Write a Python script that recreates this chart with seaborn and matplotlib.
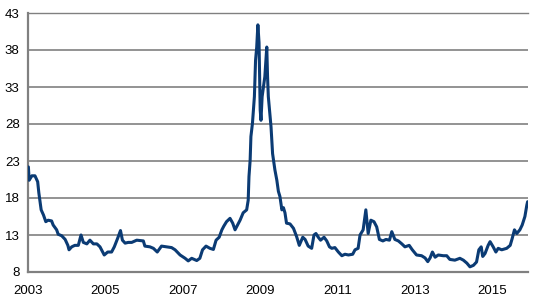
import matplotlib
matplotlib.use("Agg")
import matplotlib.pyplot as plt
import seaborn as sns
import pandas as pd

# Decimal years and index values
years = [
    2003.01, 2003.03, 2003.10, 2003.18, 2003.25, 2003.28, 2003.34, 2003.40, 2003.46, 2003.52,
    2003.61, 2003.65, 2003.74, 2003.78, 2003.87, 2003.96, 2004.03, 2004.06, 2004.13, 2004.21,
    2004.30, 2004.37, 2004.43, 2004.52, 2004.60, 2004.69, 2004.78, 2004.86, 2004.90, 2004.97,
    2005.06, 2005.16, 2005.23, 2005.32, 2005.39, 2005.44, 2005.51, 2005.59, 2005.68, 2005.81,
    2005.98, 2006.02, 2006.15, 2006.24, 2006.34, 2006.45, 2006.58, 2006.71, 2006.80, 2006.93,
    2007.06, 2007.14, 2007.23, 2007.36, 2007.44, 2007.51, 2007.60, 2007.70, 2007.79, 2007.86,
    2007.94, 2008.01, 2008.06, 2008.13, 2008.22, 2008.29, 2008.35, 2008.48, 2008.56, 2008.65,
    2008.69, 2008.71, 2008.74, 2008.76, 2008.80, 2008.85, 2008.88, 2008.91, 2008.94, 2008.97,
    2009.00, 2009.02, 2009.05, 2009.08, 2009.12, 2009.17, 2009.19, 2009.21, 2009.28, 2009.32,
    2009.38, 2009.43, 2009.47, 2009.51, 2009.56, 2009.60, 2009.64, 2009.68, 2009.77, 2009.86,
    2009.94, 2010.01, 2010.10, 2010.16, 2010.24, 2010.33, 2010.39, 2010.44, 2010.50, 2010.56,
    2010.65, 2010.72, 2010.79, 2010.85, 2010.93, 2011.02, 2011.11, 2011.19, 2011.28, 2011.39,
    2011.45, 2011.53, 2011.58, 2011.66, 2011.73, 2011.79, 2011.86, 2011.94, 2012.01, 2012.08,
    2012.17, 2012.25, 2012.34, 2012.40, 2012.48, 2012.57, 2012.66, 2012.74, 2012.85, 2012.93,
    2013.04, 2013.17, 2013.26, 2013.33, 2013.39, 2013.45, 2013.52, 2013.60, 2013.73, 2013.82,
    2013.90, 2014.03, 2014.16, 2014.25, 2014.34, 2014.42, 2014.51, 2014.59, 2014.65, 2014.71,
    2014.75, 2014.81, 2014.89, 2014.94, 2015.02, 2015.09, 2015.15, 2015.24, 2015.37, 2015.46,
    2015.51, 2015.57, 2015.63, 2015.71, 2015.77, 2015.84, 2015.89, 2015.91,
]
values = [
    22.2, 20.4, 21.0, 21.0, 20.2, 18.7, 16.4, 15.7, 14.8, 15.0,
    14.9, 14.35, 13.7, 13.1, 12.9, 12.4, 11.6, 11.0, 11.4, 11.6,
    11.6, 13.0, 12.0, 11.8, 12.3, 11.8, 11.8, 11.4, 11.0, 10.3,
    10.7, 10.7, 11.4, 12.6, 13.6, 12.3, 11.9, 12.0, 12.0, 12.3,
    12.2, 11.5, 11.4, 11.2, 10.7, 11.5, 11.4, 11.3, 11.0, 10.3,
    9.85, 9.5, 9.85, 9.55, 9.85, 11.0, 11.5, 11.2, 11.05, 12.3,
    12.7, 13.7, 14.2, 14.8, 15.25, 14.6, 13.7, 15.0, 16.0, 16.4,
    17.7, 20.9, 23.1, 26.3, 28.1, 31.7, 36.6, 38.4, 41.4, 39.0,
    29.9, 28.5, 31.7, 32.9, 34.4, 38.4, 34.4, 31.7, 27.6, 24.0,
    21.8, 20.4, 18.9, 18.2, 16.4, 16.7, 16.0, 14.6, 14.5, 13.9,
    12.8, 11.6, 12.7, 12.4, 11.5, 11.2, 13.0, 13.2, 12.7, 12.3,
    12.7, 12.2, 11.4, 11.2, 11.3, 10.7, 10.2, 10.4, 10.3, 10.4,
    11.0, 11.2, 13.0, 13.7, 16.4, 13.2, 15.0, 14.8, 14.1, 12.4,
    12.2, 12.4, 12.3, 13.45, 12.4, 12.2, 11.8, 11.4, 11.6, 11.0,
    10.3, 10.2, 9.9, 9.4, 9.9, 10.7, 10.0, 10.3, 10.2, 10.2,
    9.7, 9.6, 9.85, 9.6, 9.2, 8.7, 8.9, 9.35, 11.0, 11.4,
    10.1, 10.5, 11.6, 12.1, 11.4, 10.7, 11.2, 11.0, 11.2, 11.6,
    12.5, 13.7, 13.2, 13.7, 14.35, 15.5, 17.05, 17.5,
]
y_ticks = [8, 13, 18, 23, 28, 33, 38, 43]
x_ticks = [2003, 2005, 2007, 2009, 2011, 2013, 2015]
x_labels = ["2003", "2005", "2007", "2009", "2011", "2013", "2015"]

df = pd.DataFrame({"year": years, "value": values})

sns.set_style("white")
plt.rcParams["font.family"] = ["Liberation Sans", "DejaVu Sans"]

fig = plt.figure(figsize=(5.46, 3.04), dpi=100)
ax = fig.add_axes([28 / 546, 32 / 304, 500 / 546, 259 / 304])

grid_c = "#808080"
sns.lineplot(data=df, x="year", y="value", ax=ax, color="#0b3b74", linewidth=2.2, zorder=3)

ax.set_xlim(2003.0, 2015.92)
ax.set_ylim(8, 43)
ax.set_yticks(y_ticks)
ax.set_yticklabels([str(t) for t in y_ticks])
ax.set_xticks(x_ticks)
ax.set_xticklabels(x_labels)
ax.set_xlabel("")
ax.set_ylabel("")

ax.yaxis.grid(True, color=grid_c, linewidth=1.2)
ax.xaxis.grid(False)
ax.set_axisbelow(True)

ax.spines["right"].set_visible(False)
ax.spines["left"].set_color(grid_c)
ax.spines["left"].set_linewidth(1.6)
ax.spines["bottom"].set_color(grid_c)
ax.spines["bottom"].set_linewidth(1.6)
ax.spines["top"].set_color(grid_c)
ax.spines["top"].set_linewidth(1.0)

ax.tick_params(axis="both", length=0, labelsize=9.5, colors="black")
ax.tick_params(axis="y", pad=6)
ax.tick_params(axis="x", pad=9)

fig.savefig("out.png", dpi=100)
